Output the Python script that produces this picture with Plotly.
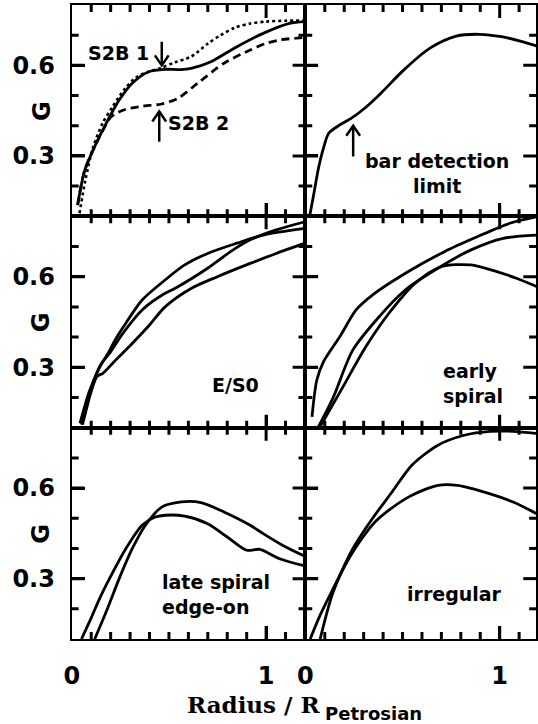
import plotly.graph_objects as go

# ---------------- data ----------------
# Panel 1: S2B examples
s2b1_x = [0.03, 0.067, 0.126, 0.177, 0.244, 0.311, 0.396, 0.48, 0.56, 0.614, 0.716, 0.85, 0.985, 1.12, 1.2]
s2b1_y = [0.137, 0.253, 0.342, 0.408, 0.485, 0.541, 0.579, 0.587, 0.586, 0.590, 0.612, 0.662, 0.706, 0.739, 0.745]
orig_x = [0.04, 0.07, 0.11, 0.16, 0.21, 0.27, 0.33, 0.40, 0.46, 0.53, 0.614, 0.70, 0.766, 0.84, 0.918, 1.0, 1.10, 1.2]
orig_y = [0.11, 0.22, 0.33, 0.41, 0.463, 0.52, 0.56, 0.58, 0.592, 0.61, 0.629, 0.672, 0.70, 0.725, 0.739, 0.745, 0.748, 0.748]
s2b2_x = [0.03, 0.067, 0.126, 0.177, 0.2, 0.227, 0.28, 0.345, 0.41, 0.463, 0.547, 0.648, 0.783, 0.918, 1.0, 1.069, 1.2]
s2b2_y = [0.137, 0.253, 0.342, 0.405, 0.428, 0.441, 0.455, 0.463, 0.468, 0.472, 0.491, 0.541, 0.607, 0.651, 0.673, 0.684, 0.693]

# Panel 2: bar detection limit
bar_x = [0.022, 0.045, 0.069, 0.095, 0.12, 0.17, 0.237, 0.305, 0.389, 0.507, 0.641, 0.776, 0.894, 1.01, 1.146, 1.2]
bar_y = [0.1, 0.18, 0.264, 0.33, 0.375, 0.40, 0.425, 0.458, 0.508, 0.585, 0.657, 0.697, 0.703, 0.695, 0.673, 0.662]

# Panel 3: E/S0
es0a_x = [0.042, 0.09, 0.143, 0.19, 0.227, 0.278, 0.362, 0.48, 0.581, 0.699, 0.85, 0.985, 1.2]
es0a_y = [0.114, 0.22, 0.30, 0.35, 0.395, 0.446, 0.523, 0.589, 0.639, 0.677, 0.711, 0.738, 0.76]
es0b_x = [0.05, 0.1, 0.15, 0.194, 0.26, 0.362, 0.48, 0.53, 0.699, 0.817, 0.918, 1.052, 1.2]
es0b_y = [0.11, 0.23, 0.31, 0.346, 0.41, 0.49, 0.545, 0.561, 0.628, 0.683, 0.722, 0.755, 0.782]
es0c_x = [0.055, 0.1, 0.13, 0.16, 0.22, 0.311, 0.40, 0.48, 0.614, 0.749, 0.918, 1.052, 1.2]
es0c_y = [0.11, 0.22, 0.27, 0.28, 0.32, 0.379, 0.44, 0.50, 0.561, 0.60, 0.644, 0.677, 0.711]

# Panel 4: early spiral
esa_x = [0.034, 0.059, 0.093, 0.177, 0.261, 0.345, 0.53, 0.716, 0.884, 1.052, 1.2]
esa_y = [0.136, 0.258, 0.318, 0.401, 0.49, 0.539, 0.617, 0.683, 0.732, 0.777, 0.80]
esb_x = [0.067, 0.143, 0.244, 0.379, 0.514, 0.682, 0.85, 1.018, 1.2]
esb_y = [0.103, 0.2, 0.357, 0.467, 0.556, 0.628, 0.688, 0.727, 0.738]
esc_x = [0.076, 0.194, 0.311, 0.43, 0.564, 0.699, 0.85, 0.985, 1.086, 1.2]
esc_y = [0.103, 0.236, 0.368, 0.479, 0.578, 0.633, 0.639, 0.617, 0.595, 0.565]

# Panel 5: late spiral edge-on
lsa_x = [0.05, 0.1, 0.143, 0.194, 0.278, 0.362, 0.429, 0.48, 0.581, 0.699, 0.80, 0.90, 0.968, 1.069, 1.2]
lsa_y = [0.1, 0.17, 0.234, 0.30, 0.399, 0.477, 0.504, 0.51, 0.507, 0.482, 0.438, 0.394, 0.397, 0.366, 0.342]
lsb_x = [0.118, 0.177, 0.244, 0.311, 0.379, 0.463, 0.564, 0.665, 0.783, 0.918, 0.985, 1.086, 1.2]
lsb_y = [0.1, 0.19, 0.3, 0.399, 0.477, 0.537, 0.554, 0.552, 0.521, 0.477, 0.449, 0.41, 0.374]

# Panel 6: irregular
irra_x = [0.025, 0.076, 0.16, 0.244, 0.345, 0.446, 0.547, 0.682, 0.817, 0.951, 1.069, 1.2]
irra_y = [0.1, 0.179, 0.289, 0.399, 0.499, 0.587, 0.675, 0.742, 0.775, 0.788, 0.788, 0.78]
irrb_x = [0.076, 0.143, 0.227, 0.362, 0.53, 0.682, 0.783, 0.951, 1.069, 1.2]
irrb_y = [0.1, 0.256, 0.37, 0.49, 0.57, 0.609, 0.609, 0.581, 0.554, 0.512]

# tick values / labels
x_major = [0, 1]
x_major_text = ["0", "1"]
x_minor = [0.1, 0.2, 0.3, 0.4, 0.5, 0.6, 0.7, 0.8, 0.9, 1.1]
y_major = [0.3, 0.6]
y_major_text = ["0.3", "0.6"]
y_minor = [0.2, 0.4, 0.5, 0.7]

# panel labels: (panel, text, x, y, align)
labels = [
    (0, "S2B 1", 0.24, 0.64, "center"),
    (0, "S2B 2", 0.65, 0.41, "center"),
    (1, "bar detection<br>limit", 0.675, 0.242, "center"),
    (2, "E/S0", 0.84, 0.241, "center"),
    (3, "early<br>spiral", 0.70, 0.247, "left"),
    (4, "late spiral<br>edge-on", 0.455, 0.248, "left"),
    (5, "irregular", 0.766, 0.25, "center"),
]
# arrows: (panel, x, tail_y, tip_y)
arrows = [
    (0, 0.463, 0.678, 0.600),
    (0, 0.450, 0.347, 0.447),
    (1, 0.246, 0.298, 0.400),
]

# ---------------- layout geometry ----------------
W, H = 538, 724
col_px = [(65, 303), (303, 538)]
row_px = [(5, 216.3), (216.3, 427.7), (427.7, 639)]
px_per_x = 198.0
y_range = [0.1, 0.8]
px_per_y = (row_px[0][1] - row_px[0][0]) / (y_range[1] - y_range[0])
MAJOR_LEN, MINOR_LEN = 13, 7

panels = [
    [(s2b1_x, s2b1_y, "solid"), (orig_x, orig_y, "dot"), (s2b2_x, s2b2_y, "8px,5px")],
    [(bar_x, bar_y, "solid")],
    [(es0a_x, es0a_y, "solid"), (es0b_x, es0b_y, "solid"), (es0c_x, es0c_y, "solid")],
    [(esa_x, esa_y, "solid"), (esb_x, esb_y, "solid"), (esc_x, esc_y, "solid")],
    [(lsa_x, lsa_y, "solid"), (lsb_x, lsb_y, "solid")],
    [(irra_x, irra_y, "solid"), (irrb_x, irrb_y, "solid")],
]

fig = go.Figure()
BOLD = dict(family="DejaVu Sans", color="black", weight="bold")
AX = dict(showline=True, linewidth=2.2, linecolor="black", mirror=True,
          ticks="inside", ticklen=MAJOR_LEN, tickwidth=3, tickcolor="black",
          showgrid=False, zeroline=False, tickmode="array")

for i, curves in enumerate(panels):
    row, col = divmod(i, 2)
    n = "" if i == 0 else str(i + 1)
    xa, ya = "x" + n, "y" + n
    for cx, cy, dash in curves:
        fig.add_trace(go.Scatter(
            x=cx, y=cy, mode="lines", xaxis=xa, yaxis=ya, showlegend=False,
            line=dict(color="black", width=2.8 if dash != "dot" else 2.6, dash=dash,
                      shape="spline", smoothing=0.8),
            hoverinfo="skip"))
    x0, x1 = col_px[col]
    y0, y1 = row_px[row]
    xr = [0, (x1 - x0) / px_per_x]
    fig.layout["xaxis" + n] = dict(
        AX, domain=[x0 / W, x1 / W], range=xr, anchor=ya,
        tickvals=x_major, ticktext=x_major_text,
        showticklabels=(row == 2), ticklabelstandoff=14,
        tickfont=dict(size=24, **BOLD))
    fig.layout["yaxis" + n] = dict(
        AX, domain=[1 - y1 / H, 1 - y0 / H], range=y_range, anchor=xa,
        tickvals=y_major, ticktext=y_major_text,
        showticklabels=(col == 0), ticklabelstandoff=10,
        tickfont=dict(size=24, **BOLD))

    # inward tick marks on all four sides, drawn as a line trace in data units
    tx, ty = [], []
    for vals, ln in ((x_major, MAJOR_LEN), (x_minor, MINOR_LEN)):
        dy = ln / px_per_y
        for v in vals:
            if v <= 0 or v >= xr[1]:
                continue
            for base, sgn in ((y_range[0], 1), (y_range[1], -1)):
                tx += [v, v, None]
                ty += [base, base + sgn * dy, None]
    for vals, ln in ((y_major, MAJOR_LEN), (y_minor, MINOR_LEN)):
        dx = ln / px_per_x
        for v in vals:
            for base, sgn in ((xr[0], 1), (xr[1], -1)):
                tx += [base, base + sgn * dx, None]
                ty += [v, v, None]
    fig.add_trace(go.Scatter(x=tx, y=ty, mode="lines", xaxis=xa, yaxis=ya,
                             showlegend=False, hoverinfo="skip", connectgaps=False,
                             line=dict(color="black", width=3, simplify=False)))
    if col == 0:
        fig.add_annotation(text="G", xref="paper", yref="paper",
                           x=34 / W, y=1 - (y0 + y1) / 2 / H,
                           xanchor="center", yanchor="middle",
                           textangle=-90, showarrow=False,
                           font=dict(size=24, **BOLD))

for p, txt, lx, ly, al in labels:
    n = "" if p == 0 else str(p + 1)
    fig.add_annotation(text=txt, xref="x" + n, yref="y" + n, x=lx, y=ly,
                       xanchor="left" if al == "left" else "center",
                       align=al, showarrow=False,
                       font=dict(size=19, **BOLD))

# arrows drawn as line paths in data coordinates
head_w_px, head_l_px = 7, 10
for p, ax, ty_, hy in arrows:
    n = "" if p == 0 else str(p + 1)
    hw = head_w_px / px_per_x
    hl = head_l_px / px_per_y
    sgn = 1 if hy > ty_ else -1
    fig.add_trace(go.Scatter(
        x=[ax, ax, None, ax - hw, ax, ax + hw],
        y=[ty_, hy, None, hy - sgn * hl, hy, hy - sgn * hl],
        mode="lines", xaxis="x" + n, yaxis="y" + n, showlegend=False,
        line=dict(color="black", width=2.5), hoverinfo="skip"))

# x-axis title
fig.add_annotation(text="Radius / R", xref="paper", yref="paper",
                   x=320 / W, y=1 - 704 / H, xanchor="right", yanchor="middle",
                   showarrow=False,
                   font=dict(family="DejaVu Serif", size=23, color="black", weight="bold"))
fig.add_annotation(text="Petrosian", xref="paper", yref="paper",
                   x=321 / W, y=1 - 713 / H, xanchor="left", yanchor="middle",
                   showarrow=False, font=dict(size=18, **BOLD))

fig.update_layout(width=W, height=H, margin=dict(l=0, r=0, t=0, b=0),
                  paper_bgcolor="white", plot_bgcolor="white", showlegend=False)

fig.write_html("out.html", config={"displayModeBar": False},
               post_script="document.body.style.margin='0';")
